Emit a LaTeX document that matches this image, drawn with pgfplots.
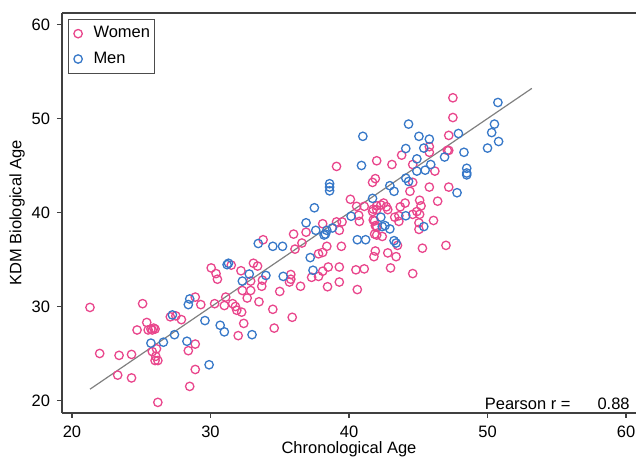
\documentclass[border=0pt]{standalone}
\usepackage{pgfplots}
\pgfplotsset{compat=1.18}
\usepackage{fontspec}
\setmainfont{Liberation Sans}
\definecolor{women}{RGB}{233,70,140}
\definecolor{men}{RGB}{55,120,200}
\definecolor{fitline}{RGB}{128,128,128}
\newcommand{\fs}{\fontsize{8.25}{9.9}\selectfont}

\begin{document}
\begin{tikzpicture}
\begin{axis}[
  name=ax,
  scale only axis, width=287pt, height=200pt,
  xmin=19.28, xmax=60.72, ymin=18.67, ymax=61.22,
  axis x line*=bottom, axis y line*=left,
  axis line style={-, black!75, line width=0.7pt},
  xtick={20,30,40,50,60}, ytick={20,30,40,50,60},
  tick align=outside, major tick length=2.5pt,
  tick style={black!75, line width=0.6pt},
  /pgf/number format/assume math mode=true,
  tick label style={font=\fs},
  xticklabel style={yshift=-0.5pt},
  xlabel={Chronological Age}, ylabel={KDM Biological Age},
  every axis x label/.style={at={(axis description cs:0.5,-0.09)}, anchor=center, font=\fs},
  every axis y label/.style={at={(axis description cs:-0.0784,0.5)}, anchor=center, rotate=90, font=\fs},
  legend cell align=left,
  legend image code/.code={\path[draw=none] (0pt,0pt) (10.5pt,0pt); \draw[#1] plot coordinates {(4.8pt,0pt)};},
  legend style={at={(0,1)}, anchor=north west, xshift=3pt, yshift=-3pt,
    font=\fs, draw=black!70, line width=0.5pt, inner xsep=0pt, inner ysep=1.5pt,
    row sep=1.5pt},
  clip=false,
]
\addplot[only marks, mark=o, mark size=2.1pt, women, line width=0.65pt] coordinates {
(21.3,29.9) (25.1,30.3) (22.0,25.0) (23.4,24.8) (24.3,24.9) (23.3,22.7) (24.3,22.4)
(26.2,19.8) (28.5,21.5) (28.9,23.3) (28.4,25.3) (28.9,26.0) (32.0,26.9) (25.8,25.2)
(26.1,25.5) (26.05,24.7) (26.0,24.25) (26.2,24.25) (24.7,27.5) (25.4,28.3) (25.5,27.5)
(25.7,27.6) (25.9,27.7) (25.8,27.5) (26.0,27.6) (27.1,28.9) (27.5,29.0) (27.9,28.6)
(28.9,31.0) (29.3,30.2) (30.05,34.1) (30.4,33.5) (30.5,32.9) (31.5,34.4) (30.3,30.3)
(31.0,30.1) (31.1,31.0) (31.6,30.3) (31.8,30.0) (31.9,29.6) (32.2,33.8)
(40.1,41.4) (40.55,40.65) (41.1,40.65) (41.7,43.2) (38.1,38.8) (39.1,39.0) (39.5,39.0)
(39.3,38.1) (40.7,39.7) (40.75,39.05) (36.0,37.7) (36.9,37.9) (36.6,36.75) (36.1,36.1)
(33.8,37.1) (37.8,35.6) (38.1,35.75) (38.4,36.4) (39.45,36.4) (41.8,35.3) (41.9,35.9)
(41.85,37.7) (42.0,38.5) (41.85,39.1) (41.7,40.1) (33.1,34.6) (33.4,34.3) (32.9,32.7)
(35.8,33.4) (35.8,32.9) (35.7,32.6) (33.75,32.8) (33.7,32.15) (32.3,31.7) (32.9,31.7)
(32.65,30.9) (33.5,30.5) (34.5,29.7) (35.9,28.85) (34.6,27.7) (32.4,28.2) (35.0,31.6)
(36.5,32.15) (37.3,33.1) (37.8,33.2) (38.1,33.75) (38.5,34.2) (39.3,34.2) (39.3,32.6)
(38.45,32.1) (40.5,33.9) (41.1,34.0) (40.6,31.8) (32.25,29.4)
(47.5,52.2) (47.5,50.1) (47.2,48.2) (45.8,47.0) (45.8,46.4) (47.1,46.6) (47.2,46.6)
(39.1,44.9) (42.0,45.5) (43.1,45.1) (43.8,46.1) (44.6,45.1) (46.2,44.4) (47.2,42.7)
(45.8,42.7) (46.4,41.2) (41.9,43.6) (44.6,43.2) (44.4,42.25) (42.0,40.7) (41.75,40.35)
(42.3,40.8) (42.5,41.0) (42.7,40.6) (42.8,40.3) (42.0,40.3) (43.7,40.6) (44.05,41.0)
(45.1,41.3) (45.2,40.7) (44.9,40.1) (44.6,39.8) (45.1,39.8) (43.6,39.65) (43.6,39.05)
(43.3,39.5) (41.75,39.2) (41.9,38.6) (42.0,38.45) (42.0,37.6) (42.4,37.45) (43.5,36.5)
(45.05,38.2) (46.1,39.15) (45.05,38.9) (42.8,35.7) (43.4,35.3) (45.3,36.2) (47.0,36.5)
(43.0,34.1) (44.6,33.5)
};
\addlegendentry{Women\hspace{3pt}}
\addplot[only marks, mark=o, mark size=2.1pt, men, line width=0.65pt] coordinates {
(29.9,23.8) (28.3,26.3) (29.6,28.5) (30.7,28.0) (31.0,27.3) (25.7,26.1) (26.6,26.2)
(27.4,27.0) (27.25,29.1) (28.5,30.8) (28.4,30.2) (31.2,34.45) (31.3,34.6) (38.6,43.06)
(38.6,42.7) (38.6,42.3) (37.5,40.5) (41.7,41.5) (36.9,38.9) (37.6,38.1) (38.4,38.1)
(38.3,37.7) (38.2,37.6) (38.8,38.35) (40.15,39.6) (33.45,36.7) (34.5,36.4) (35.2,36.4)
(37.2,35.2) (40.6,37.1) (41.2,37.1) (32.8,33.45) (34.0,33.3) (32.3,32.7) (35.25,33.2)
(37.4,33.85) (33.0,27.0) (44.3,49.4) (41.0,48.1) (45.05,48.1) (45.8,47.8) (47.9,48.4)
(44.1,46.8) (45.4,46.85) (48.3,46.4) (40.9,45.0) (44.9,45.7) (45.5,44.5) (44.9,44.4)
(45.9,45.1) (46.9,45.9) (48.5,44.7) (48.5,44.2) (48.5,44.0) (47.8,42.1) (42.95,42.85)
(43.25,42.25) (44.1,43.65) (44.3,43.3) (44.1,39.65) (42.3,39.5) (42.4,38.5) (42.6,38.6)
(42.95,38.25) (43.25,37.0) (43.4,36.75) (45.4,38.5) (50.75,51.7) (50.5,49.4) (50.3,48.5)
(50.8,47.55) (50.0,46.85)
};
\addlegendentry{Men}
\addplot[fitline, line width=0.6pt, no marks, forget plot] coordinates {(21.3,21.2) (53.2,53.2)};
\draw[black!75, line width=0.7pt] (rel axis cs:0,1) -- (rel axis cs:1,1);
\node[font=\fs, anchor=east, inner sep=0pt] at (axis cs:56.03,19.63) {Pearson r =};
\node[font=\fs, anchor=east, inner sep=0pt] at (axis cs:60.29,19.63) {0.88};
\end{axis}
\path (ax.south west) ++(-31pt,-22.5pt) coordinate (bbA);
\path (ax.north east) ++(0pt,6.5pt) coordinate (bbB);
\pgfresetboundingbox
\path[use as bounding box] (bbA) rectangle (bbB);
\end{tikzpicture}
\end{document}
